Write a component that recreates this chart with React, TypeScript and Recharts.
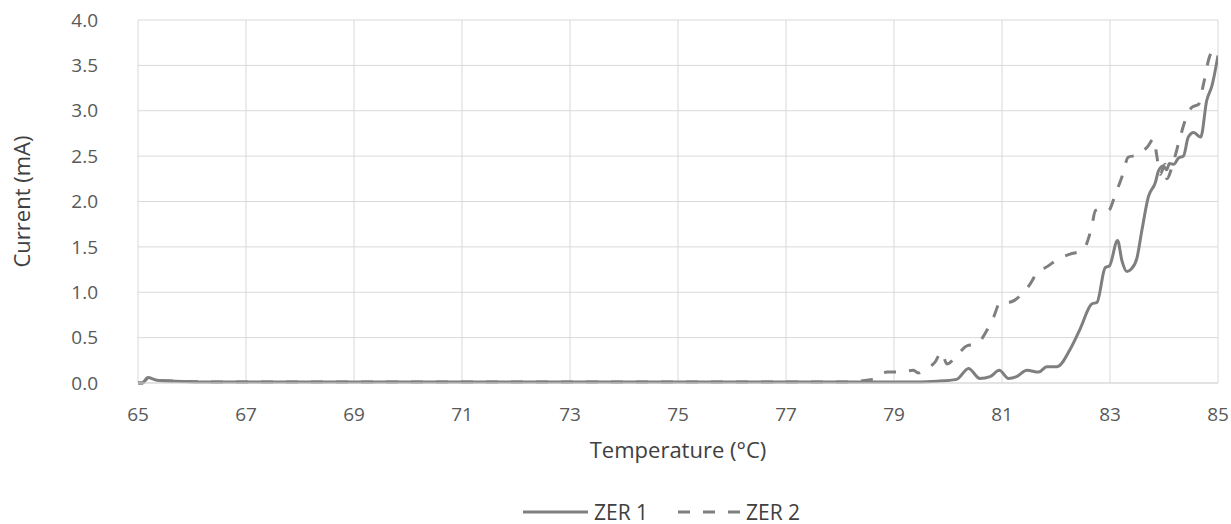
import React from "react";
import {
  CartesianGrid,
  Legend,
  Line,
  LineChart,
  XAxis,
  YAxis,
} from "recharts";

// ZER 1 (solid)
const zer1Temp = [
  65.0, 65.08, 65.18, 65.35, 65.7, 66.5, 70, 75, 78, 79.2, 79.8, 80.16, 80.38,
  80.59, 80.78, 80.95, 81.12, 81.27, 81.46, 81.68, 81.83, 82.02, 82.26, 82.45,
  82.66, 82.76, 82.91, 82.99, 83.14, 83.22, 83.31, 83.4, 83.5, 83.59, 83.71,
  83.84, 83.9, 83.99, 84.05, 84.1, 84.18, 84.27, 84.36, 84.45, 84.55, 84.68,
  84.79, 84.89, 85.0,
];
const zer1Current = [
  0.0, 0.0, 0.06, 0.03, 0.02, 0.01, 0.01, 0.01, 0.01, 0.01, 0.02, 0.04, 0.16,
  0.05, 0.07, 0.14, 0.05, 0.07, 0.14, 0.12, 0.18, 0.18, 0.37, 0.6, 0.87, 0.89,
  1.27, 1.29, 1.57, 1.35, 1.23, 1.26, 1.38, 1.68, 2.05, 2.21, 2.34, 2.39, 2.35,
  2.42, 2.41, 2.48, 2.5, 2.71, 2.76, 2.71, 3.11, 3.28, 3.61,
];

// ZER 2 (dashed)
const zer2Temp = [
  65.0, 65.08, 65.18, 65.35, 65.7, 66.5, 70, 75, 78, 78.6, 78.87, 79.08, 79.36,
  79.45, 79.54, 79.76, 79.88, 79.98, 80.16, 80.35, 80.53, 80.72, 80.84, 80.97,
  81.12, 81.37, 81.52, 81.68, 81.8, 82.05, 82.26, 82.48, 82.54, 82.66, 82.73,
  82.85, 82.97, 83.1, 83.22, 83.34, 83.5, 83.69, 83.81, 83.87, 83.93, 84.02,
  84.05, 84.18, 84.3, 84.39, 84.52, 84.64, 84.73, 84.83, 84.93,
];
const zer2Current = [
  0.0, 0.0, 0.05, 0.03, 0.02, 0.01, 0.01, 0.01, 0.01, 0.04, 0.12, 0.12, 0.14,
  0.11, 0.14, 0.23, 0.34, 0.21, 0.3, 0.41, 0.43, 0.58, 0.72, 0.89, 0.89, 0.98,
  1.09, 1.24, 1.27, 1.37, 1.42, 1.46, 1.5, 1.72, 1.9, 1.92, 1.9, 2.08, 2.27,
  2.49, 2.51, 2.6, 2.69, 2.49, 2.3, 2.41, 2.25, 2.45, 2.71, 2.89, 3.04, 3.07,
  3.29, 3.57, 3.7,
];

const xTicks = [65, 67, 69, 71, 73, 75, 77, 79, 81, 83, 85];
const yTicks = [0, 0.5, 1, 1.5, 2, 2.5, 3, 3.5, 4];

const zer1 = zer1Temp.map((t, i) => ({ t, v: zer1Current[i] }));
const zer2 = zer2Temp.map((t, i) => ({ t, v: zer2Current[i] }));

const LINE = "#7f7f7f";
const TEXT = "#595959";
const TITLE = "#404040";
const DASH = "12 13";

function LegendBox() {
  const item = (label: string, left: number, gap: number, dash?: string) => (
    <div style={{ position: "absolute", left, top: 0, height: 24, display: "flex", alignItems: "center" }}>
      <svg width={65} height={10}>
        <line x1={0} y1={5} x2={65} y2={5} stroke={LINE} strokeWidth={3} strokeDasharray={dash} />
      </svg>
      <span style={{ marginLeft: gap, color: TITLE, fontSize: 21, lineHeight: "24px" }}>{label}</span>
    </div>
  );
  return (
    <div style={{ position: "relative", width: 1231, height: 24 }}>
      {item("ZER 1", 523, 6)}
      {item("ZER 2", 678, 3, DASH)}
    </div>
  );
}

export default function App() {
  return (
    <div style={{ position: "absolute", left: 0, top: 0, fontFamily: "Open Sans", background: "#fff" }}>
      <LineChart width={1231} height={524} margin={{ top: 20, right: 13, left: 0, bottom: 0 }}>
        <CartesianGrid stroke="#d9d9d9" strokeWidth={1} />
        <XAxis
          type="number"
          dataKey="t"
          domain={[65, 85]}
          ticks={xTicks}
          allowDataOverflow
          tickLine={false}
          tickSize={0}
          axisLine={{ stroke: "#d9d9d9" }}
          tick={{ fill: TEXT, fontSize: 19 }}
          tickMargin={25}
          height={117}
          label={{ value: "Temperature (°C)", position: "insideTop", offset: 59, fill: TITLE, fontSize: 22 }}
        />
        <YAxis
          type="number"
          domain={[0, 4]}
          ticks={yTicks}
          tickFormatter={(v: number) => v.toFixed(1)}
          tickLine={false}
          tickSize={0}
          axisLine={false}
          tick={{ fill: TEXT, fontSize: 19 }}
          tickMargin={40}
          width={138}
          label={{
            value: "Current (mA)",
            angle: -90,
            position: "insideLeft",
            offset: 22,
            fill: TITLE,
            fontSize: 22,
            style: { textAnchor: "middle" },
          }}
        />
        <Legend verticalAlign="bottom" content={() => <LegendBox />} />
        <Line
          data={zer1}
          dataKey="v"
          name="ZER 1"
          type="monotone"
          stroke={LINE}
          strokeWidth={3}
          dot={false}
          isAnimationActive={false}
        />
        <Line
          data={zer2}
          dataKey="v"
          name="ZER 2"
          type="monotone"
          stroke={LINE}
          strokeWidth={3}
          strokeDasharray={DASH}
          dot={false}
          isAnimationActive={false}
        />
      </LineChart>
    </div>
  );
}
